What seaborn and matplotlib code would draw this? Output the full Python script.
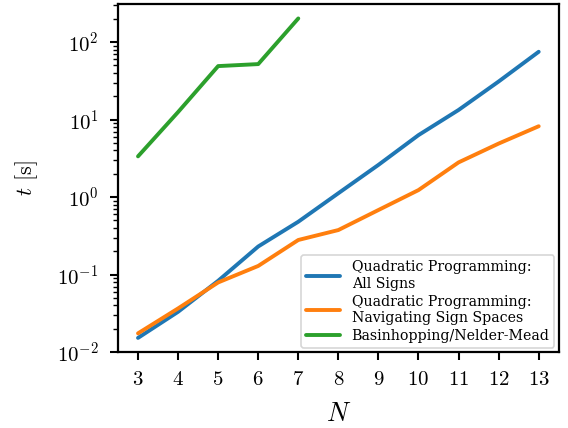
import matplotlib
matplotlib.use("Agg")
import matplotlib.pyplot as plt
import seaborn as sns
import pandas as pd

# Data
n_qp = [3, 4, 5, 6, 7, 8, 9, 10, 11, 12, 13]
t_all_signs = [0.0152, 0.033, 0.083, 0.23, 0.48, 1.12, 2.6, 6.3, 13.3, 31, 75]
t_nav_signs = [0.0174, 0.0365, 0.079, 0.129, 0.279, 0.375, 0.68, 1.23, 2.8, 4.9, 8.2]
n_bh = [3, 4, 5, 6, 7]
t_basin = [3.35, 12.5, 49, 52, 202]

labels = ["Quadratic Programming:\nAll Signs",
          "Quadratic Programming:\nNavigating Sign Spaces",
          "Basinhopping/Nelder-Mead"]

df = pd.concat([
    pd.DataFrame({"N": n_qp, "t": t_all_signs, "method": labels[0]}),
    pd.DataFrame({"N": n_qp, "t": t_nav_signs, "method": labels[1]}),
    pd.DataFrame({"N": n_bh, "t": t_basin, "method": labels[2]}),
], ignore_index=True)

sns.set_style("ticks")
plt.rcParams["font.family"] = ["cmr10", "DejaVu Serif"]
plt.rcParams["mathtext.fontset"] = "cm"
plt.rcParams["axes.formatter.use_mathtext"] = True
plt.rcParams["axes.edgecolor"] = "black"
plt.rcParams["axes.linewidth"] = 1.6
plt.rcParams["text.color"] = "black"
plt.rcParams["axes.labelcolor"] = "black"
plt.rcParams["xtick.color"] = "black"
plt.rcParams["ytick.color"] = "black"

fig = plt.figure(figsize=(5.68, 4.28), dpi=100)
ax = fig.add_axes([0.2077, 0.1776, 0.776, 0.813])

sns.lineplot(data=df, x="N", y="t", hue="method", hue_order=labels,
             palette=["#1f77b4", "#ff7f0e", "#2ca02c"], linewidth=2.8, ax=ax)

ax.set_yscale("log")
ax.set_ylim(1e-2, 310)
ax.set_xlim(2.5, 13.5)
ax.set_xticks(n_qp)
ax.tick_params(axis="both", which="major", labelsize=15, length=6, width=1.5,
               pad=8, color="black", labelcolor="black")
ax.tick_params(axis="y", which="minor", length=3.5, width=1.0, color="black")
ax.set_xlabel(r"$N$", fontsize=19, labelpad=9)
ax.set_ylabel(r"$t$ [s]", fontsize=16, labelpad=12)

leg = ax.legend(loc="lower right", frameon=True, handlelength=2.4,
                handletextpad=0.8, labelspacing=0.28, borderpad=0.35,
                borderaxespad=0.3,
                prop={"family": "DejaVu Serif", "size": 10.2})
leg.get_frame().set_edgecolor("#cccccc")
leg.get_frame().set_linewidth(1.2)
for line in leg.get_lines():
    line.set_linewidth(2.8)

fig.savefig("out.png", dpi=100)
